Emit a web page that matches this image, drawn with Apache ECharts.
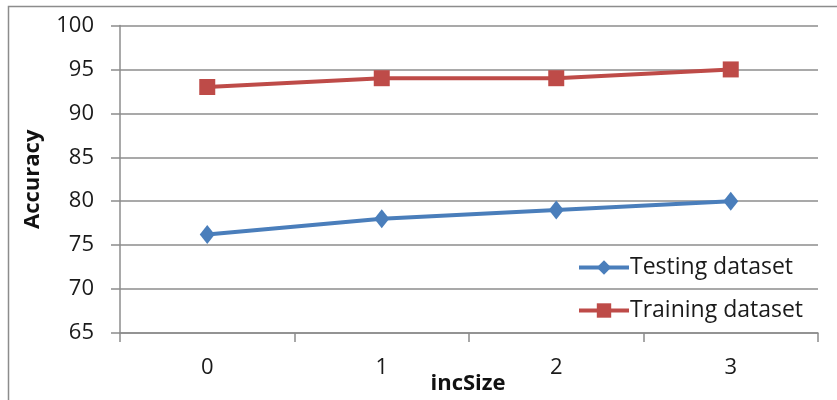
<!DOCTYPE html>
<html><head><meta charset="utf-8">
<script src="https://cdn.jsdelivr.net/npm/echarts@6/dist/echarts.min.js"></script>
<style>html,body{margin:0;padding:0;background:#fff}#c{width:837px;height:400px}</style>
</head><body><div id="c"></div>
<script>
const categories = ['0', '1', '2', '3'];
const testing = [76.2, 78, 79, 80];
const training = [93, 94, 94, 95];
const seriesNames = ['Testing dataset', 'Training dataset'];
const xTitle = 'incSize';
const yTitle = 'Accuracy';

const font = 'Open Sans';
const chart = echarts.init(document.getElementById('c'));
chart.setOption({
  animation: false,
  backgroundColor: '#fff',
  graphic: [{
    type: 'rect', shape: {x: 8.5, y: 6.5, width: 840, height: 400},
    style: {fill: 'none', stroke: '#8c8c8c', lineWidth: 1.5}
  }, {
    type: 'text', x: 468, y: 384,
    style: {text: xTitle, fontFamily: font, fontSize: 22, fontWeight: 'bold', fill: '#111',
            align: 'center', verticalAlign: 'middle'}
  }],
  grid: {left: 120, right: 19, top: 25.5, bottom: 67, outerBoundsMode: 'none', containLabel: false},
  legend: {
    orient: 'vertical', left: 572, top: 251, itemGap: 20,
    itemWidth: 50, itemHeight: 18,
    lineStyle: {width: 4},
    textStyle: {fontFamily: font, fontSize: 23, color: '#1a1a1a', padding: [0,0,0,-4]},
    data: seriesNames
  },
  xAxis: {
    type: 'category', data: categories, boundaryGap: true,
    axisLine: {lineStyle: {color: '#8c8c8c', width: 1.5}},
    axisTick: {show: true, alignWithLabel: false, length: 9, lineStyle: {color: '#8c8c8c', width: 1.5}},
    axisLabel: {margin: 24, fontFamily: font, fontSize: 22, color: '#1a1a1a'},
    splitLine: {show: false}
  },
  yAxis: {
    type: 'value', min: 65, max: 100, interval: 5,
    name: yTitle, nameLocation: 'middle', nameGap: 76, nameRotate: 90,
    nameTextStyle: {fontFamily: font, fontSize: 22, fontWeight: 'bold', color: '#111'},
    axisLine: {show: true, lineStyle: {color: '#8c8c8c', width: 1.5}},
    axisTick: {show: true, length: 9, lineStyle: {color: '#8c8c8c', width: 1.5}},
    axisLabel: {margin: 26, fontFamily: font, fontSize: 22, color: '#1a1a1a'},
    splitLine: {lineStyle: {color: '#8c8c8c', width: 1.5}}
  },
  series: [
    {name: seriesNames[0], type: 'line', data: testing, symbol: 'diamond', symbolSize: [15, 19],
     lineStyle: {color: '#4a7ebb', width: 4}, itemStyle: {color: '#4a7ebb'}},
    {name: seriesNames[1], type: 'line', data: training, symbol: 'rect', symbolSize: 16,
     lineStyle: {color: '#be4b48', width: 4}, itemStyle: {color: '#be4b48'}}
  ]
});
</script></body></html>
